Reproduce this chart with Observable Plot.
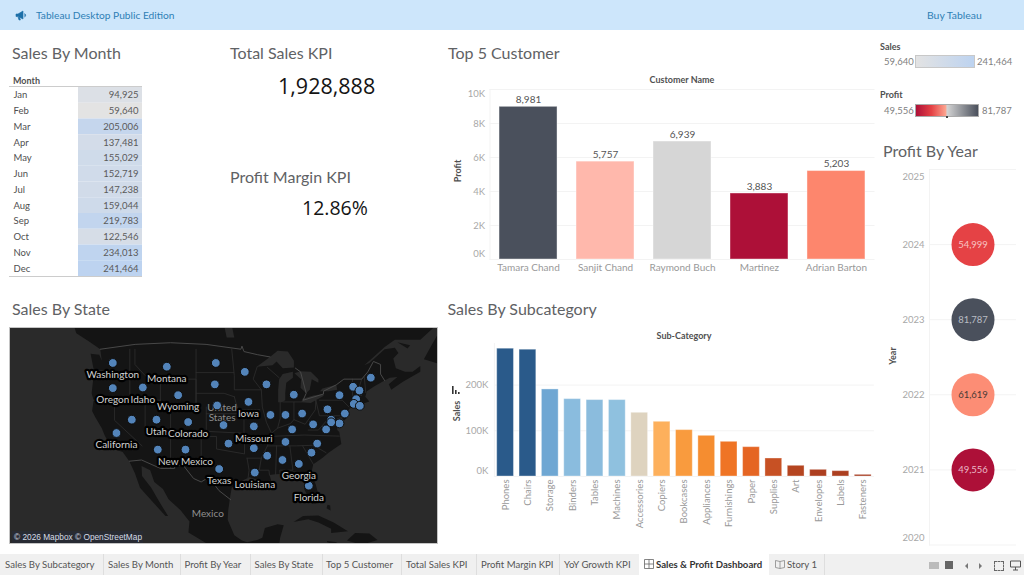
<!DOCTYPE html>
<html>
<head>
<meta charset="utf-8">
<script src="https://cdn.jsdelivr.net/npm/d3@7"></script>
<script src="https://cdn.jsdelivr.net/npm/@observablehq/plot@0.6"></script>
<style>
html,body{margin:0;padding:0;background:#fff;width:1024px;height:575px;overflow:hidden;font-family:Lato,"Open Sans",sans-serif}
.a{position:absolute;white-space:nowrap}
.h{font-size:16px;color:#5f6265;line-height:20px}
.b{font-weight:700;font-size:9px;color:#505050}
.r{transform:translate(-50%,-50%) rotate(-90deg)}
.g{font-size:9.5px;color:#808080}
.tab{position:absolute;top:554px;height:21px;line-height:21px;font-size:9.6px;color:#555;white-space:nowrap}
.sep{position:absolute;top:554px;height:21px;width:1px;background:#dedede}
svg{display:block}
</style>
</head>
<body>
<script>
const months = ["Jan","Feb","Mar","Apr","May","Jun","Jul","Aug","Sep","Oct","Nov","Dec"];
const monthSales = [94925,59640,205006,137481,155029,152719,147238,159044,219783,122546,234013,241464];

const customers = ["Tamara Chand","Sanjit Chand","Raymond Buch","Martinez","Adrian Barton"];
const customerProfit = [8981,5757,6939,3883,5203];
const customerFills = ["#4a505c","#ffb8ac","#d6d6d6","#ad1038","#fd866d"];

const subcats = ["Phones","Chairs","Storage","Binders","Tables","Machines","Accessories","Copiers","Bookcases","Appliances","Furnishings","Paper","Supplies","Art","Envelopes","Labels","Fasteners"];
const subcatSales = [279600,277400,190500,169300,167200,167200,139400,119700,101500,89000,75900,64200,39400,23400,14600,11700,3600];
const subcatFills = ["#2a5a8a","#2a5a8a","#6fa7d3","#8abcde","#8bbcdd","#8fc1df","#ded3bf","#fdb05c","#f99b3e","#f58d30","#ef7425","#e56523","#c75124","#b54520","#ad3f20","#ac3f20","#a63a1f"];

const years = [2021,2022,2023,2024];
const yearProfit = [49556,61619,81787,54999];
const yearFills = ["#ad1038","#fc8d75","#4a505c","#e54245"];
const yearInk = ["#eab9c6","#4a3a36","#b9bdc4","#f7c3c3"];

const stateNames = ["Washington","Montana","North Dakota","Minnesota","Wisconsin","Michigan","Oregon","Idaho","South Dakota","Wyoming","Nebraska","Iowa","Illinois","Indiana","Ohio","Nevada","Utah","Colorado","Kansas","Missouri","Kentucky","West Virginia","Virginia","Pennsylvania","New York","Vermont","New Hampshire","Maine","Massachusetts","Connecticut","Rhode Island","New Jersey","Delaware","Maryland","District of Columbia","California","Oklahoma","Arizona","New Mexico","Arkansas","Tennessee","North Carolina","South Carolina","Mississippi","Alabama","Georgia","Louisiana","Texas","Florida"];
const stateLon = [-120.34,-109.74,-100.13,-94.44,-90.19,-84.82,-120.34,-114.45,-100.32,-107.52,-99.87,-93.72,-89.4,-86.46,-83.19,-116.61,-111.77,-105.56,-98.62,-92.67,-85.15,-81.03,-78.48,-78.22,-75.86,-73.18,-71.94,-69.71,-72.59,-73.05,-71.87,-74.81,-75.86,-77.5,-77.5,-119.62,-97.64,-111.51,-106.08,-92.67,-86.46,-80.24,-81.36,-90.05,-87.05,-83.84,-92.48,-99.47,-81.88];
const stateLat = [47.2,46.7,47.2,46,44.27,42.8,43.74,43.83,44.27,42.73,41.23,41.76,39.82,39.82,40.03,39.1,39.1,38.74,38.27,38.07,37.6,38.38,37.6,40.66,42.73,43.93,43.4,45.2,42.15,41.47,41.18,40.03,38.53,39.1,38.7,37.04,35.37,34.4,34.4,34.63,35.63,35.37,33.9,33.4,32.7,32.05,30.6,31.2,28.36];
const labelledStates = ["Washington","Montana","Oregon","Idaho","Wyoming","Iowa","Utah","Colorado","California","Missouri","New Mexico","Texas","Louisiana","Georgia","Florida"];

// Basemap geography in longitude / latitude
const landRings = [
 [[-92,14.5],[-95,16],[-98,16],[-102,18],[-105.5,20],[-105.3,22],[-107,24],[-109.4,26],[-110.5,27.8],[-112.2,29],[-113,31],[-114.7,31.7],[-114.6,30],[-112.8,28],[-111.5,26],[-110.5,24.5],[-109.5,23],[-110,23],[-112,25],[-114,27],[-115,28],[-116,30.5],[-117.1,32.5],[-118.4,34],[-120.6,34.6],[-121.9,36.6],[-122.5,37.8],[-123.8,39.5],[-124.4,40.4],[-124.1,42],[-124.5,43],[-124,46],[-124.7,48.4],[-123,48.3],[-122.5,47.5],[-122.8,49],[-125,50],[-127.5,51],[-128,52],[-131,55],[-140,60],[-140,68],[-50,68],[-56,52.5],[-60,50.2],[-65,50.2],[-67,49.3],[-69.5,47.8],[-71,46.9],[-70,47.2],[-67,49],[-65,49.2],[-64.3,48.5],[-65.3,47.8],[-64.8,46.5],[-63,46],[-61.5,46],[-60,46.8],[-60,46],[-63.5,44.6],[-65.7,43.5],[-66.2,44.3],[-64.5,45.3],[-66,45.2],[-67,44.8],[-69,44],[-70.5,43.3],[-70.8,42.5],[-70,41.8],[-71.3,41.5],[-72.9,41.2],[-74,40.7],[-74.1,39.7],[-75,38.9],[-75.5,39.5],[-76.3,39.3],[-76.3,37.5],[-75.9,37.2],[-75.5,35.3],[-76.6,34.7],[-78,33.9],[-79.3,33],[-81,32],[-81.4,30.5],[-80.5,28.5],[-80,26.8],[-80.3,25.3],[-81.2,25.2],[-81.8,26],[-82.8,27.8],[-82.8,29],[-84,30],[-85.3,29.7],[-86.5,30.4],[-88.5,30.3],[-89.6,30.2],[-89.2,29.1],[-90.8,29.1],[-93.5,29.8],[-95,29.2],[-97,28],[-97.3,26.5],[-97.7,24],[-97.8,22.3],[-96.5,19.5],[-95,18.5],[-94,18.2],[-92,18.6],[-91,19],[-90.5,20.8],[-88,21.5],[-86.8,21.3],[-87.5,19],[-88,16],[-89,13],[-92,14.5]],
 [[-59.3,47.7],[-57.8,49.5],[-56,51.5],[-55.5,50],[-53,48.5],[-52.7,47],[-55.5,46.9],[-59.3,47.7]],
 [[-64.5,49.9],[-62,49.5],[-62.5,49.1],[-64.5,49.9]],
 [[-84.9,21.9],[-83,23],[-80,23.1],[-77,21.8],[-74.2,20.2],[-77.5,19.9],[-77.5,20.7],[-80,21.8],[-82,22.4],[-84.9,21.9]],
 [[-74.4,18.5],[-72.8,19.9],[-70,19.8],[-68.4,18.6],[-71.5,17.7],[-74.4,18.5]],
 [[-78.3,18.4],[-76.3,18.2],[-77,17.8],[-78.3,18.2],[-78.3,18.4]],
 [[-78.4,24.4],[-78.2,25],[-77.7,24.9],[-77.6,24],[-78.4,24.4]]
];
const lakeRings = [
 [[-92.1,46.7],[-89.5,48],[-88,48.8],[-86,48.7],[-84.8,47.5],[-84.8,46.6],[-87,46.5],[-88.2,47.4],[-89,46.9],[-92.1,46.7]],
 [[-87.9,41.7],[-87.9,43.5],[-87.7,45],[-87,45.7],[-85,46],[-85,45.2],[-86.3,44.5],[-86.5,43],[-86.5,42],[-87.2,41.7],[-87.9,41.7]],
 [[-84.7,45.8],[-83.5,46.1],[-81.5,46],[-80,45],[-80,44.5],[-81.3,45],[-81.7,43.5],[-82.4,43],[-83.5,43.8],[-83.4,45],[-84.7,45.8]],
 [[-83.4,41.7],[-83.1,42.2],[-81,42.7],[-79,42.9],[-79,42.6],[-81.5,41.6],[-83.4,41.7]],
 [[-79.7,43.3],[-79.2,43.7],[-76.5,44.2],[-76.3,43.5],[-78,43.3],[-79.7,43.3]],
 [[-98,50.5],[-98.5,52],[-97,52],[-96.5,50.5],[-98,50.5]]
];
const countryBorders = [
 [[-122.8,49],[-95.2,49],[-95,49.4],[-94.6,48.7],[-92,48.3],[-89.5,48]],
 [[-84.5,46.5],[-83.5,46],[-82.4,43],[-83,42],[-79,42.9],[-79,43.3],[-76.5,44.2],[-75,45],[-71.5,45],[-70.3,46],[-69.2,47.4],[-67.8,47],[-67.8,45.7],[-67,44.8]],
 [[-117.1,32.5],[-114.7,32.7],[-111,31.3],[-108.2,31.3],[-108.2,31.8],[-106.5,31.8],[-104.5,29.6],[-103,29],[-101.5,29.8],[-99.5,27.5],[-97.2,25.9]]
];
const stateBorders = [
 [[-124,46.2],[-119,46],[-116.9,46]],[[-117,49],[-117,42]],[[-124.2,42],[-111,42]],[[-120,42],[-120,39],[-114.6,35]],[[-114,42],[-114,37]],[[-114,37],[-94.6,37]],[[-109,41],[-109,31.3]],[[-111,45],[-111,41],[-104,41],[-104,45],[-111,45]],[[-116,49],[-116,47],[-114,45.5],[-111,44.5]],[[-104,45.9],[-96.6,45.9]],[[-104,49],[-104,41]],[[-104,43],[-98.5,43],[-96.5,42.5]],[[-102,40],[-95.3,40]],[[-102,41],[-102,37]],[[-103,37],[-103,32],[-106.6,32]],[[-103,36.5],[-100,36.5],[-100,34.5],[-94.5,33.7],[-94.5,36.5]],[[-97,49],[-96.5,45.5],[-96.5,43.5],[-91.2,43.5]],[[-96.5,42.5],[-95.8,40.6],[-91.5,40.6]],[[-94.6,39.1],[-94.6,36.5],[-89.7,36.5]],[[-92,46.7],[-92.8,45],[-91.2,43.5],[-91,41],[-90.2,38.7],[-89.2,37],[-90,35],[-91.2,33],[-91.6,31],[-89.7,31],[-89.6,30.2]],[[-94,33],[-91.2,33]],[[-94,33],[-93.6,31],[-93.8,29.7]],[[-87.5,41.7],[-87.5,39.3],[-88,37.8]],[[-89.2,37],[-88,37.8],[-85.5,38.5],[-84.8,39.1],[-82.6,38.4],[-80.6,40.6],[-80.5,42]],[[-84.8,41.7],[-84.8,39.1]],[[-87,41.75],[-83.4,41.75]],[[-87.7,45.2],[-90,46.6]],[[-89.7,36.5],[-75.9,36.55]],[[-90,35],[-84.3,35],[-81,35.1],[-78.5,33.9]],[[-88.2,35],[-88.4,30.3]],[[-85.6,35],[-85,31],[-87.6,31],[-87.5,30.4]],[[-85,30.7],[-82,30.5],[-81.5,30.7]],[[-83.1,35],[-81,32]],[[-82,37.5],[-80,37.5],[-78,39.3]],[[-80.5,42],[-79.8,39.7],[-75.8,39.7]],[[-79.8,42],[-75.3,42],[-74,41]],[[-73.3,45],[-73.3,42.7],[-71.5,42.7]],[[-71.5,45],[-72.5,42.7]],[[-71,45.3],[-70.7,43.1]]
];

const tabs = [["Sales By Subcategory",5],["Sales By Month",108],["Profit By Year",184.5],["Sales By State",254.5],["Top 5 Customer",326],["Total Sales KPI",406],["Profit Margin KPI",481],["YoY Growth KPI",564]];
const tabSeps = [103,180,250,322,401,476,559,824];

const FONT = 'Lato,"Open Sans",sans-serif';
const body = document.body;
function put(html, css, cls){const d=document.createElement("div");d.className="a "+(cls||"");d.style.cssText=css;d.innerHTML=html;body.appendChild(d);return d;}
function place(node,left,top){const d=document.createElement("div");d.style.cssText=`position:absolute;left:${left}px;top:${top}px`;d.appendChild(node);body.appendChild(d);}
const styleFor = s => ({fontFamily:FONT,fontSize:s+"px",background:"transparent",overflow:"visible"});
const kfmt = d => d/1000+"K";

// Top bar
put("",`left:0;top:0;width:1024px;height:30px;background:#cde6fb`);
put(`<svg width="12" height="11" viewBox="0 0 12 11"><path d="M1 4h2l5-3v8L3 6.5H1zM3 7l1 3h1.4L4.6 7.4M9.5 3.5a2 2 0 0 1 0 3.6" fill="#1c6fa8" stroke="#1c6fa8" stroke-width=".6"/></svg>`,`left:15px;top:10px`);
put("Tableau Desktop Public Edition",`left:36px;top:8px;font-size:10.2px;line-height:14px;color:#2f7fb5`);
put("Buy Tableau",`left:927px;top:8px;font-size:10.4px;line-height:14px;color:#2f7fb5`);

// Headings
[["Sales By Month",12,43],["Total Sales KPI",230,43],["Top 5 Customer",448,43],["Profit Margin KPI",230,167],["Sales By State",12,299],["Sales By Subcategory",447.5,299],["Profit By Year",883,141]]
 .forEach(([t,x,y])=>put(t,`left:${x}px;top:${y}px`,"h"));

// KPIs
put("1,928,888",`left:278px;top:70px;font:400 21.5px/32px "Open Sans",sans-serif;color:#141414`);
put("12.86%",`left:302px;top:194px;font:400 19.5px/28px "Open Sans",sans-serif;color:#141414`);

// Sales by month table
put("Month",`left:13px;top:75px;line-height:11px`,"b");
put("",`left:9px;top:86px;width:133px;height:189px;border-top:1px solid #ccc;border-bottom:1px solid #ccc`);
const monthRows = months.map((m,i)=>({month:m,sales:monthSales[i]}));
place(Plot.plot({
  width:133,height:189,marginLeft:69,marginRight:0,marginTop:0,marginBottom:0,
  style:{...styleFor(9.5)},
  y:{domain:months,padding:0,round:false,label:null},
  color:{type:"linear",domain:[59640,241464],range:["#e3e3e3","#bdd3f0"]},
  marks:[
    Plot.cell(monthRows,{y:"month",fill:"sales"}),
    Plot.axisY({anchor:"left",tickSize:0,tickPadding:0,textAnchor:"start",dx:-65,fill:"#4f4f4f",label:null}),
    Plot.text(monthRows,{y:"month",text:d=>d3.format(",")(d.sales),frameAnchor:"right",dx:-4,fill:"#5a5a5a"})
  ]
}),9,87);

// Top 5 Customer
const custRows = customers.map((c,i)=>({name:c,profit:customerProfit[i]}));
put("Customer Name",`left:682px;top:79px;transform:translate(-50%,-50%)`,"b");
put("Profit",`left:457px;top:171px`,"b r");
place(Plot.plot({
  width:440,height:215,marginLeft:49.5,marginRight:5.5,marginTop:19,marginBottom:26,
  style:styleFor(9.5),
  x:{domain:customers,paddingInner:.247,paddingOuter:.124,round:false,label:null,tickSize:0},
  y:{domain:[0,10000],label:null},
  color:{domain:customers,range:customerFills},
  marks:[
    Plot.gridY({ticks:[0,2000,4000,6000,8000,10000],stroke:"#f3f3f3",strokeOpacity:1}),
    Plot.frame({anchor:"left",stroke:"#f3f3f3"}),
    Plot.axisY({ticks:[2000,4000,6000,8000],tickSize:0,tickPadding:5,tickFormat:kfmt,fill:"#a8a8a8",label:null}),
    Plot.axisY({ticks:[10000],tickSize:0,tickPadding:5,tickFormat:kfmt,dy:4,fill:"#a8a8a8",label:null}),
    Plot.axisY({ticks:[0],tickSize:0,tickPadding:5,tickFormat:kfmt,dy:-6,fill:"#a8a8a8",label:null}),
    Plot.barY(custRows,{x:"name",y:"profit",fill:"name",stroke:"#fff",strokeOpacity:.4}),
    Plot.axisX({tickSize:0,tickPadding:4,fontSize:10,fill:"#999",label:null}),
    Plot.text(custRows,{x:"name",y:"profit",text:d=>d3.format(",")(d.profit),dy:-7,fontSize:10,fill:"#555"})
  ]
}),440,70);

// Legends
put("Sales",`left:880px;top:41px;line-height:11px`,"b");
put("59,640",`left:884px;top:56px;line-height:12px`,"g");
put("",`left:915px;top:55px;width:58px;height:11px;border:1px solid #c8c8c8;background:linear-gradient(90deg,#e3e3e3,#bdd3f0)`);
put("241,464",`left:977px;top:56px;line-height:12px`,"g");
put("Profit",`left:880px;top:89px;line-height:11px`,"b");
put("49,556",`left:884px;top:105px;line-height:12px`,"g");
put("",`left:915px;top:104px;width:62px;height:11px;border:1px solid #aaa;background:linear-gradient(90deg,#ad1038,#e54245 25%,#fca48f 48%,#d3d3d3 50%,#4a505c)`);
put("",`left:946px;top:116px;width:1.5px;height:2px;background:#444`);
put("81,787",`left:982px;top:105px;line-height:12px`,"g");

// Sales by state map
const rows = stateNames.map((n,i)=>({name:n,lon:stateLon[i],lat:stateLat[i]}));
const geoRings = r => ({type:"Polygon",coordinates:[r]});
const mapFrame = put("",`left:9px;top:327px;width:427px;height:215px;border:1px solid #c4c4c4;overflow:hidden;background:#2a2a2a`);
mapFrame.appendChild(Plot.plot({
  width:427,height:215,margin:0,
  style:{...styleFor(10),background:"#2a2a2a",overflow:"hidden"},
  projection:d3.geoMercator().scale(292).translate([715.6,308]),
  marks:[
    landRings.map(r=>Plot.geo(geoRings(r),{fill:"#141414"})),
    lakeRings.map(r=>Plot.geo(geoRings(r),{fill:"#2a2a2a"})),
    Plot.geo({type:"MultiLineString",coordinates:stateBorders},{stroke:"#2e2e2e",strokeWidth:.8}),
    Plot.geo({type:"MultiLineString",coordinates:countryBorders},{stroke:"#484848",strokeWidth:1}),
    Plot.text([{t:"United\nStates",lon:-98.9,lat:40.15},{t:"Mexico",lon:-101.7,lat:23.4}],{x:"lon",y:"lat",text:"t",fill:"#8f8f8f",lineHeight:1.05}),
    Plot.dot(rows,{x:"lon",y:"lat",r:4.4,fill:"#5384ba",stroke:"#0d0d0d",strokeWidth:1}),
    Plot.text(rows.filter(d=>labelledStates.includes(d.name)),{x:"lon",y:"lat",text:"name",dy:12,fill:"#d2d2d2",stroke:"#000",strokeWidth:4.5,fontSize:10})
  ]
}));
put("© 2026 Mapbox © OpenStreetMap",`left:12px;top:531px;height:12px;padding:0 1px 0 2px;font:8.3px/12px "Liberation Sans",sans-serif;color:#d5dbe6;background:rgba(40,44,55,.7)`);

// Sales by subcategory
const subRows = subcats.map((s,i)=>({name:s,sales:subcatSales[i]}));
put("Sub-Category",`left:684px;top:335px;transform:translate(-50%,-50%)`,"b");
put("Sales",`left:456px;top:411px`,"b r");
put(`<svg width="8" height="8" viewBox="0 0 8 8"><path d="M0 0h1.6v8H0zM3 4h1.6v4H3zM6 6h1.6v2H6z" fill="#333"/></svg>`,`left:452px;top:386px`);
place(Plot.plot({
  width:440,height:215,marginLeft:53.9,marginRight:6.1,marginTop:18,marginBottom:64,
  style:styleFor(9.5),
  x:{domain:subcats,paddingInner:.25,paddingOuter:.125,round:false,label:null},
  y:{domain:[0,291000],label:null},
  color:{domain:subcats,range:subcatFills},
  marks:[
    Plot.gridY({ticks:[0,100000,200000],stroke:"#f3f3f3",strokeOpacity:1}),
    Plot.frame({anchor:"left",stroke:"#f3f3f3"}),
    Plot.axisY({ticks:[100000,200000],tickSize:0,tickPadding:6,tickFormat:kfmt,fill:"#a8a8a8",label:null}),
    Plot.axisY({ticks:[0],tickSize:0,tickPadding:6,tickFormat:kfmt,dy:-6,fill:"#a8a8a8",label:null}),
    Plot.barY(subRows,{x:"name",y:"sales",fill:"name",stroke:"#fff",strokeOpacity:.35}),
    Plot.axisX({tickSize:0,tickPadding:3,tickRotate:-90,fill:"#999",label:null})
  ]
}),440,325);

// Profit by year
const yearRows = years.map((y,i)=>({year:y,profit:yearProfit[i],ink:yearInk[i]}));
put("Year",`left:892px;top:356px`,"b r");
place(Plot.plot({
  width:120,height:402,marginLeft:25,marginRight:8,marginTop:13,marginBottom:13.5,
  style:styleFor(9.5),
  y:{domain:[2025,2020],range:[13,388.5],label:null},
  color:{domain:years,range:yearFills},
  marks:[
    Plot.gridY({ticks:[2020,2021,2022,2023,2024,2025],stroke:"#f3f3f3",strokeOpacity:1}),
    Plot.frame({anchor:"left",stroke:"#f3f3f3"}),
    Plot.axisY({ticks:[2021,2022,2023,2024],tickSize:0,tickPadding:5,tickFormat:"d",fill:"#a8a8a8",label:null}),
    Plot.axisY({ticks:[2025],tickSize:0,tickPadding:5,tickFormat:"d",dy:7,fill:"#a8a8a8",label:null}),
    Plot.axisY({ticks:[2020],tickSize:0,tickPadding:5,tickFormat:"d",dy:-7,fill:"#a8a8a8",label:null}),
    Plot.dot(yearRows,{y:"year",r:21.5,fill:"year"}),
    Plot.text(yearRows,{y:"year",text:d=>d3.format(",")(d.profit),fill:"ink"})
  ]
}),904,156);

// Sheet tabs
put("",`left:0;top:554px;width:1024px;height:21px;background:#f0f0f0`);
tabs.forEach(([t,x])=>{const d=document.createElement("div");d.className="tab";d.style.left=x+"px";d.textContent=t;body.appendChild(d);});
tabSeps.forEach(x=>{const d=document.createElement("div");d.className="sep";d.style.left=x+"px";body.appendChild(d);});
put("",`left:639px;top:554px;width:130px;height:21px;background:#fff`);
put(`<svg width="10" height="10" viewBox="0 0 10 10"><path d="M.5.5h9v9h-9zM5 .5v9M.5 5h9" fill="none" stroke="#666" stroke-width=".8"/></svg>`,`left:644px;top:559px`);
put("Sales & Profit Dashboard",`left:656px;top:554px;line-height:21px;font-size:9.6px;font-weight:700;color:#333`);
put(`<svg width="10" height="10" viewBox="0 0 10 10"><path d="M.5 1.5l4.5 1 4.5-1v7l-4.5 1-4.5-1zM5 2.5v7" fill="none" stroke="#888" stroke-width=".8"/></svg>`,`left:775px;top:559px`);
put("Story 1",`left:787px;top:554px;line-height:21px;font-size:9.6px;color:#555`);
put("",`left:929px;top:562px;width:10px;height:7px;background:#bbb`);
put("",`left:945px;top:561px;width:8px;height:8px;background:#666`);
put("",`left:962px;top:563px;border:3px solid transparent;border-right:3px solid #777`);
put("",`left:979px;top:563px;border:3px solid transparent;border-left:3px solid #777`);
put("",`left:994px;top:561px;width:8px;height:8px;border:1px dashed #666`);
put(`<svg width="11" height="11" viewBox="0 0 11 11"><path d="M.5 1h10v6h-10zM5.5 7v3M3 10h5" fill="none" stroke="#555"/></svg>`,`left:1010px;top:560px`);
</script>
</body>
</html>
